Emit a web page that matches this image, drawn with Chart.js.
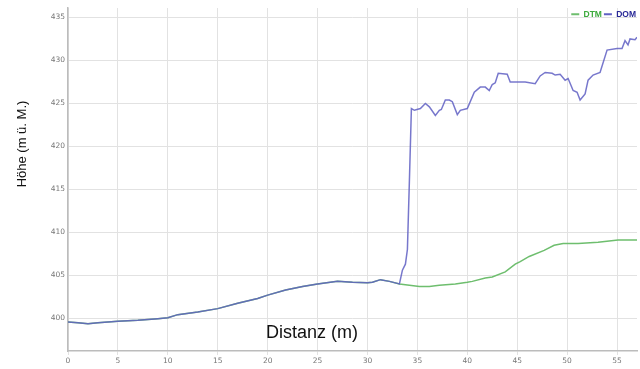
<!DOCTYPE html>
<html>
<head>
<meta charset="utf-8">
<script src="https://cdn.jsdelivr.net/npm/chart.js@4/dist/chart.umd.min.js"></script>
<style>
  html, body { margin: 0; padding: 0; background: #fff; }
</style>
</head>
<body>
<canvas id="profil" width="640" height="369"></canvas>
<script>
const profil = document.querySelector('#profil')

const dtm_x = [0, 1, 2, 3, 5, 7, 9, 10, 11, 13, 15, 17, 19, 20, 21.8, 23.5, 25, 27, 28.5, 30, 30.5, 31.3, 32.2, 33.2,
    35.2, 36.2, 37.2, 38.8, 40, 40.5, 41.8, 42.5, 43.8, 44.8, 45.3, 46.2, 47.7, 48.7, 49.6, 51.1, 53.1, 55.1, 57]
const dtm_y = [399.57, 399.5, 399.38, 399.5, 399.65, 399.77, 399.96, 400.08, 400.43, 400.73, 401.13, 401.75, 402.3, 402.7, 403.3, 403.7, 404.0, 404.3, 404.2, 404.15, 404.2, 404.5, 404.3, 404.0,
    403.7, 403.7, 403.85, 404.0, 404.2, 404.3, 404.7, 404.8, 405.4, 406.3, 406.6, 407.2, 407.9, 408.5, 408.7, 408.7, 408.85, 409.1, 409.1]

const dom_x = [0, 1, 2, 3, 5, 7, 9, 10, 11, 13, 15, 17, 19, 20, 21.8, 23.5, 25, 27, 28.5, 30, 30.5, 31.3, 32.2, 33.2,
    33.5, 33.8, 34.0, 34.2, 34.4, 34.7, 35.3, 35.8, 36.2, 36.8, 37.2, 37.4, 37.8, 38.2, 38.5, 39.0, 39.3, 40.0,
    40.7, 41.3, 41.8, 42.2, 42.5, 42.8, 43.1, 44.0, 44.3, 45.8, 46.8, 47.3, 47.8, 48.5, 48.8, 49.3, 49.8, 50.1,
    50.6, 51.0, 51.3, 51.8, 52.1, 52.6, 53.3, 54.0, 55.0, 55.5, 55.8, 56.1, 56.3, 56.8, 57]
const dom_y = [399.57, 399.5, 399.38, 399.5, 399.65, 399.77, 399.96, 400.08, 400.43, 400.73, 401.13, 401.75, 402.3, 402.7, 403.3, 403.7, 404.0, 404.3, 404.2, 404.15, 404.2, 404.5, 404.3, 404.0,
    405.6, 406.3, 408.0, 416.0, 424.4, 424.2, 424.4, 425.0, 424.6, 423.6, 424.2, 424.3, 425.4, 425.4, 425.2, 423.7, 424.2, 424.4,
    426.3, 426.9, 426.9, 426.5, 427.2, 427.4, 428.5, 428.4, 427.5, 427.5, 427.3, 428.2, 428.6, 428.5, 428.3, 428.4, 427.7, 427.9,
    426.5, 426.3, 425.4, 426.1, 427.7, 428.3, 428.6, 431.2, 431.4, 431.4, 432.3, 431.8, 432.5, 432.4, 432.7]

const x_ticks = [0, 5, 10, 15, 20, 25, 30, 35, 40, 45, 50, 55]
const y_ticks = [400, 405, 410, 415, 420, 425, 430, 435]

const cor_dtm = 'rgb(110, 190, 110)'
const cor_dom = 'rgba(95, 95, 195, 0.85)'

function pontos(xs, ys) {
    return xs.map((x, i) => ({x: x, y: ys[i]}))
}

// Achsentitel liegen im Original frei im Bild
const titulos = {
    id: 'titulos',
    afterDraw(chart) {
        const ctx = chart.ctx
        ctx.save()
        ctx.fillStyle = '#111'
        ctx.textAlign = 'center'
        ctx.textBaseline = 'middle'
        ctx.font = '18px "Liberation Sans", Arial, sans-serif'
        ctx.fillText('Distanz (m)', 312, 333)
        ctx.translate(22, 144)
        ctx.rotate(-Math.PI / 2)
        ctx.font = '13px "Liberation Sans", Arial, sans-serif'
        ctx.fillText('Höhe (m ü. M.)', 0, 0)
        ctx.restore()
    }
}

// Legende im Diagrammbereich, aber waagrecht oben rechts
const legendaDentro = {
    id: 'legendaDentro',
    beforeLayout(chart) {
        if (chart.legend) chart.legend.isHorizontal = () => true
    },
    afterLayout(chart) {
        const leg = chart.legend
        if (leg) {
            leg.left = chart.chartArea.left
            leg.right = chart.chartArea.right + 1
        }
    }
}

const data = {
    datasets: [
        {
            label: 'DTM',
            data: pontos(dtm_x, dtm_y),
            borderColor: cor_dtm,
            backgroundColor: cor_dtm,
            borderWidth: 1.5,
            pointRadius: 0,
            tension: 0,
            order: 2,
        },
        {
            label: 'DOM',
            data: pontos(dom_x, dom_y),
            borderColor: cor_dom,
            backgroundColor: cor_dom,
            borderWidth: 1.5,
            pointRadius: 0,
            tension: 0,
            order: 1,
        },
    ]
}

const config = {
    type: 'line',
    data: data,
    options: {
        responsive: false,
        animation: false,
        layout: { padding: { top: 8, right: 3, left: 0, bottom: 0 } },
        plugins: {
            tooltip: { enabled: false },
            legend: {
                position: 'chartArea',
                align: 'end',
                labels: {
                    boxWidth: 8,
                    boxHeight: 2,
                    padding: 2,
                    font: { family: '"Liberation Sans", Arial, sans-serif', size: 8.5, weight: 'bold' },
                    generateLabels(chart) {
                        const cores_txt = ['rgb(60, 170, 60)', 'rgb(40, 40, 150)']
                        return chart.data.datasets.map((ds, i) => ({
                            text: ds.label,
                            fillStyle: i == 0 ? cor_dtm : 'rgb(95, 95, 195)',
                            strokeStyle: i == 0 ? cor_dtm : 'rgb(95, 95, 195)',
                            lineWidth: 0,
                            fontColor: cores_txt[i],
                            datasetIndex: i,
                        }))
                    }
                }
            }
        },
        scales: {
            x: {
                type: 'linear',
                min: 0,
                max: 57,
                afterBuildTicks: (axis) => { axis.ticks = x_ticks.map(v => ({value: v})) },
                afterFit: (axis) => { axis.height = 18 },
                grid: { color: '#e2e2e2', tickLength: 4, drawTicks: true },
                border: { color: '#bcbcbc', width: 1.5 },
                ticks: {
                    color: '#777',
                    padding: 2,
                    maxRotation: 0,
                    font: { family: '"DejaVu Sans", Verdana, sans-serif', size: 7.5 },
                }
            },
            y: {
                min: 396.2,
                max: 436.1,
                afterBuildTicks: (axis) => { axis.ticks = y_ticks.map(v => ({value: v})) },
                afterFit: (axis) => { axis.width = 68 },
                grid: { color: '#e2e2e2', drawTicks: false },
                border: { color: '#bcbcbc', width: 1.5 },
                ticks: {
                    color: '#777',
                    padding: 3,
                    font: { family: '"DejaVu Sans", Verdana, sans-serif', size: 7.5 },
                }
            }
        }
    },
    plugins: [titulos, legendaDentro]
}

const graficoPerfil = new Chart(profil, config)
</script>
</body>
</html>
